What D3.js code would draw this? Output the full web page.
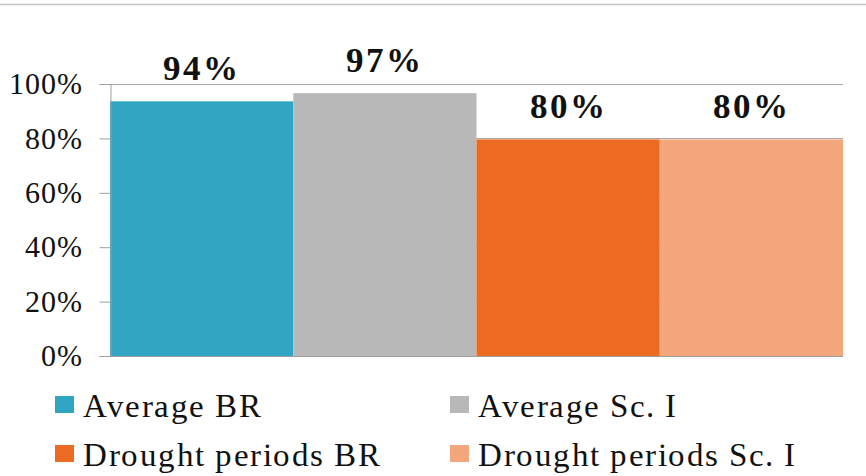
<!DOCTYPE html>
<html>
<head>
<meta charset="utf-8">
<script src="https://cdn.jsdelivr.net/npm/d3@7"></script>
<style>
  @font-face {
    font-family: "ChartSerif";
    font-weight: 400;
    src: local("Liberation Serif"), local("LiberationSerif"), local("Liberation Serif Regular"), local("Times New Roman");
  }
  @font-face {
    font-family: "ChartSerif";
    font-weight: 700;
    src: local("Liberation Serif Bold"), local("LiberationSerif-Bold"), local("Times New Roman Bold");
  }
</style>
</head>
<body style="margin:0">
<svg id="plot" width="866" height="476"></svg>
<script>
// Share of demand met, per scenario
const categories = ["Average BR", "Average Sc. I", "Drought periods BR", "Drought periods Sc. I"];
const values = [94, 97, 80, 80];
const colors = ["#31a6c4", "#b8b8b8", "#ec6a22", "#f4a77c"];
const yTicks = [0, 20, 40, 60, 80, 100];

const FONT = "ChartSerif, 'Liberation Serif', Tinos, 'Times New Roman', Times";

const svg = d3.select("#plot").attr("font-family", FONT);
const W = 866, H = 476;
const margin = { left: 110, right: 23, top: 84, bottom: 120 };
const plotW = W - margin.left - margin.right;
const plotH = H - margin.top - margin.bottom;

// white background
svg.append("rect").attr("width", W).attr("height", H).attr("fill", "#ffffff");

// thin frame line across the top
svg.append("line")
  .attr("x1", 0).attr("x2", W).attr("y1", 4.5).attr("y2", 4.5)
  .attr("stroke", "#c4c4c4").attr("stroke-width", 1.5);

const x = d3.scaleBand().domain(categories).range([margin.left, margin.left + plotW]).padding(0);
const y = d3.scaleLinear().domain([0, 100]).range([margin.top + plotH, margin.top]);

const g = svg.append("g");

// horizontal gridlines
g.selectAll("line.grid").data(yTicks).join("line")
  .attr("class", "grid")
  .attr("x1", margin.left).attr("x2", margin.left + plotW)
  .attr("y1", d => Math.round(y(d)) + 0.5).attr("y2", d => Math.round(y(d)) + 0.5)
  .attr("stroke", "#a8a8a8").attr("stroke-width", 1);

// bars
g.selectAll("rect.bar").data(values).join("rect")
  .attr("class", "bar")
  .attr("x", (d, i) => x(categories[i]))
  .attr("width", x.bandwidth())
  .attr("y", d => y(d) + 1)
  .attr("height", d => y(0) - y(d) - 1)
  .attr("fill", (d, i) => colors[i]);

// y axis
const yAxis = d3.axisLeft(y).tickValues(yTicks).tickFormat(d => d + "%").tickSize(11).tickPadding(17);
const ya = svg.append("g")
  .attr("transform", `translate(${margin.left + 0.5},0)`)
  .call(yAxis);
ya.attr("font-family", FONT).attr("font-size", 30);
ya.select(".domain").attr("stroke", "#a0a0a0");
ya.selectAll(".tick line").attr("stroke", "#a0a0a0");
ya.selectAll(".tick text")
  .attr("font-family", FONT)
  .attr("font-size", 30)
  .attr("letter-spacing", 1)
  .attr("fill", "#111");

// bottom baseline
svg.append("line")
  .attr("x1", margin.left).attr("x2", margin.left + plotW)
  .attr("y1", Math.round(y(0)) + 0.5).attr("y2", Math.round(y(0)) + 0.5)
  .attr("stroke", "#a0a0a0");

// value labels above bars
svg.selectAll("text.val").data(values).join("text")
  .attr("class", "val")
  .attr("x", (d, i) => x(categories[i]) + x.bandwidth() / 2)
  .attr("y", d => y(d) - 20)
  .attr("text-anchor", "middle")
  .attr("font-family", FONT)
  .attr("font-size", 35)
  .attr("font-weight", "bold")
  .attr("letter-spacing", 2)
  .attr("fill", "#111")
  .text(d => d + "%");

// legend, two columns by two rows
const legX = [55, 450];
const legY = [417, 466];
const leg = svg.selectAll("g.leg").data(categories).join("g")
  .attr("class", "leg")
  .attr("transform", (d, i) => `translate(${legX[i % 2]},${legY[Math.floor(i / 2)]})`);
leg.append("rect")
  .attr("x", 0).attr("y", -21).attr("width", 19).attr("height", 17)
  .attr("fill", (d, i) => colors[i]);
leg.append("text")
  .attr("x", 28).attr("y", 0)
  .attr("font-family", FONT)
  .attr("font-size", 33)
  .attr("letter-spacing", 1.5)
  .attr("fill", "#111")
  .text(d => d);
</script>
</body>
</html>
